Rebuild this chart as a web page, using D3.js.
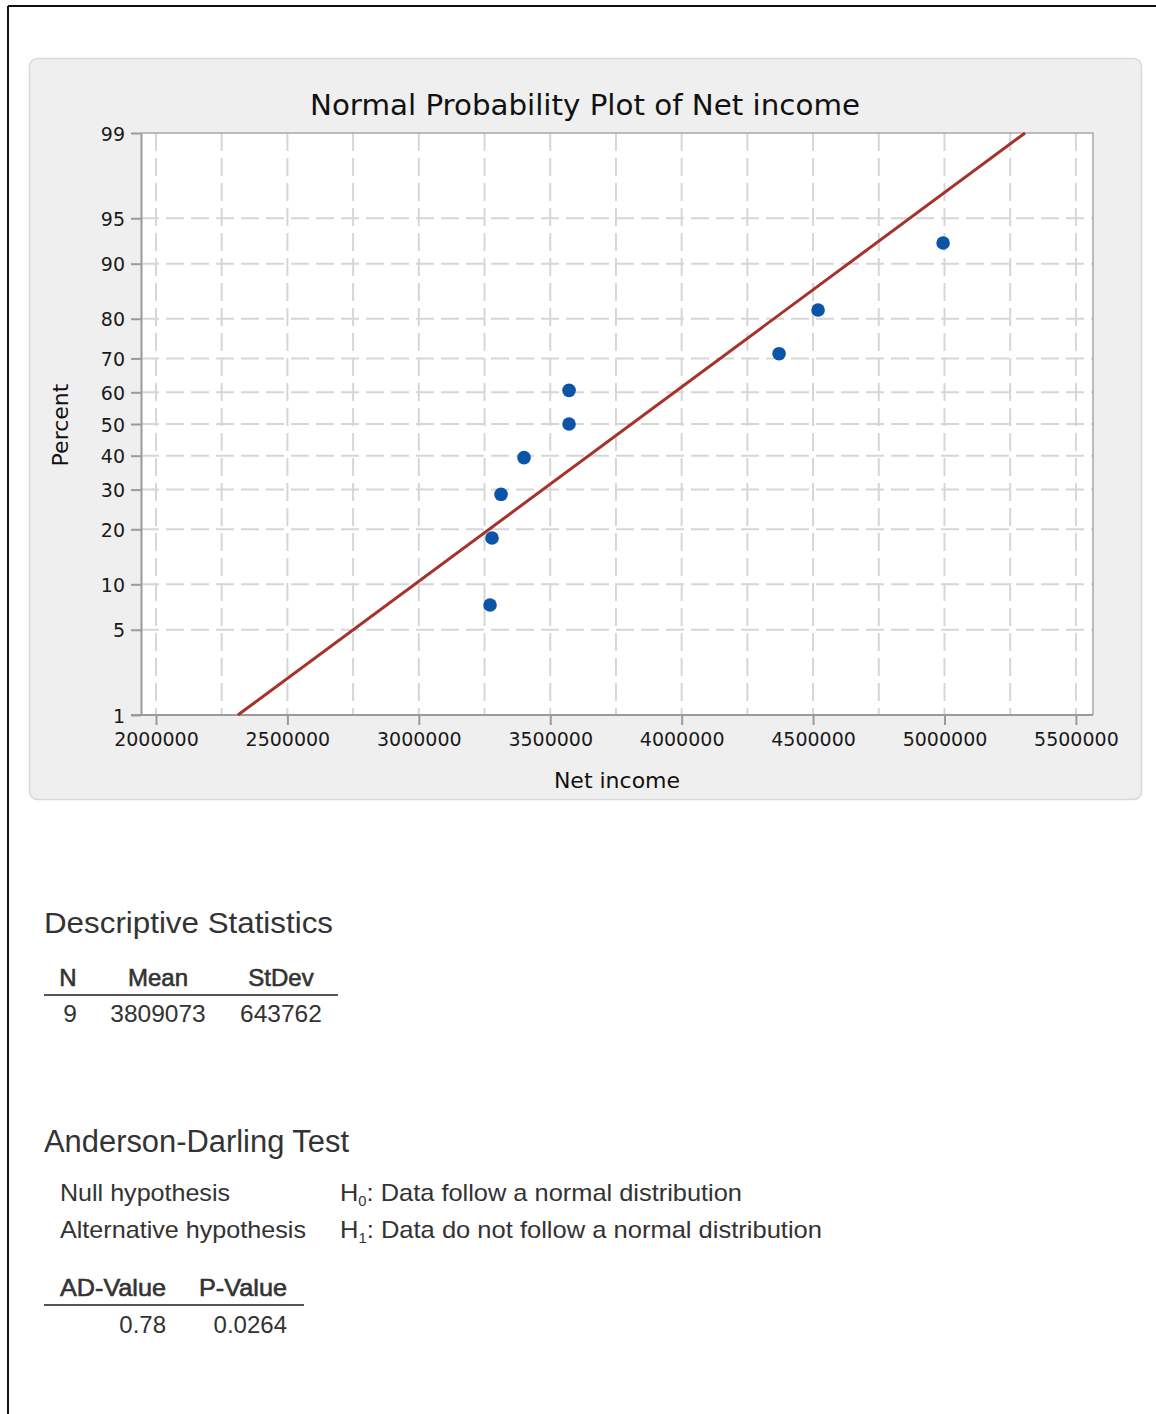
<!DOCTYPE html>
<html>
<head>
<meta charset="utf-8">
<script src="https://cdn.jsdelivr.net/npm/d3@7"></script>
<style>
  html, body { margin: 0; padding: 0; background: #fff; }
  svg { display: block; }
</style>
</head>
<body>
<svg id="chart" width="1156" height="1414"></svg>
<script>
// ---------- data ----------
const netIncome = [3270900, 3278500, 3312800, 3400300, 3571500, 3571500, 4370600, 4519000, 4994700];
const percent   = [7.4, 18.1, 28.7, 39.4, 50.0, 60.6, 71.3, 81.9, 92.6];
const fitX      = [2311700, 5306500];
const fitP      = [1, 99];
const yTicks    = [1, 5, 10, 20, 30, 40, 50, 60, 70, 80, 90, 95, 99];
const xTicks    = [2000000, 2500000, 3000000, 3500000, 4000000, 4500000, 5000000, 5500000];
const xGrid     = [2000000, 2250000, 2500000, 2750000, 3000000, 3250000, 3500000, 3750000,
                   4000000, 4250000, 4500000, 4750000, 5000000, 5250000, 5500000];
const statHeaders = ["N", "Mean", "StDev"];
const statValues  = ["9", "3809073", "643762"];
const adHeaders   = ["AD-Value", "P-Value"];
const adValues    = ["0.78", "0.0264"];

// ---------- normal quantile (probability scale) ----------
function qnorm(p) {
  const a=[-3.969683028665376e+01,2.209460984245205e+02,-2.759285104469687e+02,1.383577518672690e+02,-3.066479806614716e+01,2.506628277459239e+00];
  const b=[-5.447609879822406e+01,1.615858368580409e+02,-1.556989798598866e+02,6.680131188771972e+01,-1.328068155288572e+01];
  const c=[-7.784894002430293e-03,-3.223964580411365e-01,-2.400758277161838e+00,-2.549671010229528e+00,4.374664141464968e+00,2.938163982698783e+00];
  const d=[7.784695709041462e-03,3.224671290700398e-01,2.445134137142996e+00,3.754408661907416e+00];
  const pl=0.02425, ph=1-pl;
  if (p < pl) { const q=Math.sqrt(-2*Math.log(p)); return (((((c[0]*q+c[1])*q+c[2])*q+c[3])*q+c[4])*q+c[5])/((((d[0]*q+d[1])*q+d[2])*q+d[3])*q+1); }
  if (p <= ph) { const q=p-0.5, r=q*q; return (((((a[0]*r+a[1])*r+a[2])*r+a[3])*r+a[4])*r+a[5])*q/(((((b[0]*r+b[1])*r+b[2])*r+b[3])*r+b[4])*r+1); }
  const q=Math.sqrt(-2*Math.log(1-p)); return -(((((c[0]*q+c[1])*q+c[2])*q+c[3])*q+c[4])*q+c[5])/((((d[0]*q+d[1])*q+d[2])*q+d[3])*q+1);
}

const svg = d3.select("#chart");
const chartFont = "'DejaVu Sans', sans-serif";
const textFont = "'Liberation Sans', Arial, sans-serif";

// page border
svg.append("line").attr("x1", 8).attr("y1", 6).attr("x2", 1156).attr("y2", 6).attr("stroke", "#111").attr("stroke-width", 2);
svg.append("line").attr("x1", 8).attr("y1", 6).attr("x2", 8).attr("y2", 1414).attr("stroke", "#111").attr("stroke-width", 2);

// panel
svg.append("rect").attr("x", 29.5).attr("y", 58.5).attr("width", 1112).attr("height", 741)
  .attr("rx", 8).attr("fill", "#efefef").attr("stroke", "#d8d8d8").attr("stroke-width", 1.5);

// plot area
const L = 141, R = 1093, T = 133, B = 715;
const x = d3.scaleLinear().domain([1943000, 5565000]).range([L, R]);
const yz = d3.scaleLinear().domain([qnorm(0.01), qnorm(0.99)]).range([B, T]);
const y = p => yz(qnorm(p / 100));

svg.append("rect").attr("x", L).attr("y", T).attr("width", R - L).attr("height", B - T).attr("fill", "#fff");

// grid
const grid = svg.append("g").attr("stroke", "#d6d6d6").attr("stroke-width", 2).attr("stroke-dasharray", "18,7");
grid.selectAll("line.v").data(xGrid).join("line").attr("class", "v")
  .attr("x1", d => x(d)).attr("x2", d => x(d)).attr("y1", T).attr("y2", B);
grid.selectAll("line.h").data(yTicks.slice(1, -1)).join("line").attr("class", "h")
  .attr("x1", L).attr("x2", R).attr("y1", d => y(d)).attr("y2", d => y(d));

// frame top/right
svg.append("path").attr("d", `M${L},${T}H${R}V${B}`).attr("fill", "none").attr("stroke", "#a8a8a8").attr("stroke-width", 1.5);

// axes
const yAxis = d3.axisLeft(yz).tickValues(yTicks.map(p => qnorm(p / 100)))
  .tickFormat((d, i) => yTicks[i]).tickSize(10).tickPadding(6).tickSizeOuter(0);
const gy = svg.append("g").attr("transform", `translate(${L},0)`).call(yAxis);
const xAxis = d3.axisBottom(x).tickValues(xTicks).tickFormat(d => String(d)).tickSize(10).tickPadding(8).tickSizeOuter(0);
const gx = svg.append("g").attr("transform", `translate(0,${B})`).call(xAxis);
[gy, gx].forEach(g => {
  g.select(".domain").attr("stroke", "#9a9a9a").attr("stroke-width", 2);
  g.selectAll(".tick line").attr("stroke", "#9a9a9a").attr("stroke-width", 2);
  g.selectAll(".tick text").attr("fill", "#1a1a1a").style("font-family", chartFont).style("font-size", "19px");
});
gy.selectAll(".tick text").attr("dy", "0.38em");
// extend bottom axis line to meet y tick at 1
gx.select(".domain").attr("d", `M${L - 10},0H${R}`);

// fit line
svg.append("line")
  .attr("x1", x(fitX[0])).attr("y1", y(fitP[0]))
  .attr("x2", x(fitX[1])).attr("y2", y(fitP[1]))
  .attr("stroke", "#a5332b").attr("stroke-width", 3);

// points
svg.append("g").selectAll("circle").data(netIncome).join("circle")
  .attr("cx", d => x(d)).attr("cy", (d, i) => y(percent[i])).attr("r", 6.8).attr("fill", "#0b54a7");

// titles
svg.append("text").attr("x", 585).attr("y", 115).attr("text-anchor", "middle")
  .style("font-family", chartFont).style("font-size", "29px").attr("fill", "#111")
  .attr("textLength", 550).attr("lengthAdjust", "spacingAndGlyphs")
  .text("Normal Probability Plot of Net income");
svg.append("text").attr("x", 617).attr("y", 788).attr("text-anchor", "middle")
  .style("font-family", chartFont).style("font-size", "22px").attr("fill", "#111")
  .text("Net income");
svg.append("text").attr("transform", "translate(68,425) rotate(-90)").attr("text-anchor", "middle")
  .style("font-family", chartFont).style("font-size", "22px").attr("fill", "#111")
  .text("Percent");

// ---------- Descriptive Statistics ----------
const tcol = "#333";
svg.append("text").attr("x", 44).attr("y", 933).style("font-family", textFont).style("font-size", "30px")
  .attr("fill", tcol).attr("textLength", 289).attr("lengthAdjust", "spacingAndGlyphs").text("Descriptive Statistics");
const statX = [68, 158, 281];
svg.append("g").selectAll("text").data(statHeaders).join("text")
  .attr("x", (d, i) => statX[i]).attr("y", 986).attr("text-anchor", "middle")
  .style("font-family", textFont).style("font-size", "24px").attr("fill", tcol)
  .attr("stroke", tcol).attr("stroke-width", 0.6).text(d => d);
svg.append("line").attr("x1", 44).attr("x2", 338).attr("y1", 995).attr("y2", 995).attr("stroke", "#555").attr("stroke-width", 2);
svg.append("g").selectAll("text").data(statValues).join("text")
  .attr("x", (d, i) => statX[i] + (i === 0 ? 2 : 0)).attr("y", 1022).attr("text-anchor", "middle")
  .style("font-family", textFont).style("font-size", "24.5px").attr("fill", tcol).text(d => d);

// ---------- Anderson-Darling Test ----------
svg.append("text").attr("x", 44).attr("y", 1152).style("font-family", textFont).style("font-size", "31px")
  .attr("fill", tcol).attr("textLength", 305).attr("lengthAdjust", "spacingAndGlyphs").text("Anderson-Darling Test");

function rowText(xp, yp, w, parts) {
  const t = svg.append("text").attr("x", xp).attr("y", yp).style("font-family", textFont).style("font-size", "24px")
    .attr("fill", tcol).attr("textLength", w).attr("lengthAdjust", "spacingAndGlyphs");
  parts.forEach(p => {
    const s = t.append("tspan").text(p.t);
    if (p.sub) s.attr("dy", 5).style("font-size", "14px");
    if (p.back) s.attr("dy", -5);
  });
}
rowText(60, 1201, 170, [{t: "Null hypothesis"}]);
rowText(60, 1238, 246, [{t: "Alternative hypothesis"}]);
rowText(340, 1201, 402, [{t: "H"}, {t: "0", sub: true}, {t: ": Data follow a normal distribution", back: true}]);
rowText(340, 1238, 482, [{t: "H"}, {t: "1", sub: true}, {t: ": Data do not follow a normal distribution", back: true}]);

const adX = [166, 287];
const adW = [106, 88];
svg.append("g").selectAll("text").data(adHeaders).join("text")
  .attr("x", (d, i) => adX[i]).attr("y", 1296).attr("text-anchor", "end")
  .attr("textLength", (d, i) => adW[i]).attr("lengthAdjust", "spacingAndGlyphs")
  .style("font-family", textFont).style("font-size", "24px").attr("fill", tcol)
  .attr("stroke", tcol).attr("stroke-width", 0.6).text(d => d);
svg.append("line").attr("x1", 44).attr("x2", 304).attr("y1", 1305).attr("y2", 1305).attr("stroke", "#555").attr("stroke-width", 2);
svg.append("g").selectAll("text").data(adValues).join("text")
  .attr("x", (d, i) => adX[i]).attr("y", 1333).attr("text-anchor", "end")
  .style("font-family", textFont).style("font-size", "24px").attr("fill", tcol).text(d => d);
</script>
</body>
</html>
